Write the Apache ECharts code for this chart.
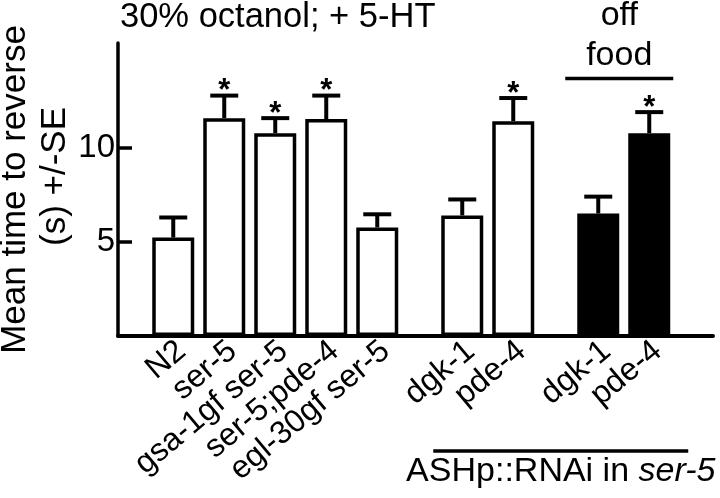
<!DOCTYPE html>
<html><head><meta charset="utf-8">
<script src="https://cdn.jsdelivr.net/npm/echarts@6/dist/echarts.min.js"></script>
<style>html,body{margin:0;padding:0;background:#fff}#c{width:720px;height:498px}</style>
</head><body><div id="c"></div>
<script>
// ---- data ----
const stimLabels = ['N2', 'ser-5', 'gsa-1gf ser-5', 'ser-5;pde-4', 'egl-30gf ser-5'];
const stimMeans  = [5.24, 11.6, 10.8, 11.55, 5.78];
const stimSE     = [1.07, 1.2, 0.8, 1.25, 0.7];
const stimSig    = [false, true, true, true, false];

const rnaiLabels = ['dgk-1', 'pde-4'];
const rnaiMeans  = [6.42, 11.44];
const rnaiSE     = [0.85, 1.23];
const rnaiSig    = [false, true];

const offFoodLabels = ['dgk-1', 'pde-4'];
const offFoodMeans  = [6.52, 10.8];
const offFoodSE     = [0.9, 1.12];
const offFoodSig    = [false, true];

const yTicks = [5, 10];
const titleText = '30% octanol; + 5-HT';
const yNameLines = ['Mean time to reverse', '(s) +/-SE'];
const rnaiCaption = 'ASHp::RNAi in ';
const rnaiCaptionItalic = 'ser-5';
const offFoodCaption = ['off', 'food'];

// ---- layout ----
const FONT = 'Liberation Sans, Arial, Helvetica, sans-serif';
const SLOTS = 70, FIRST = 6, STEP = 6, GROUP_GAP = 10, LABEL_SHIFT = 1;
const groups = [
  {labels: stimLabels, means: stimMeans, se: stimSE, sig: stimSig, fill: '#ffffff'},
  {labels: rnaiLabels, means: rnaiMeans, se: rnaiSE, sig: rnaiSig, fill: '#ffffff'},
  {labels: offFoodLabels, means: offFoodMeans, se: offFoodSE, sig: offFoodSig, fill: '#000000'}
];
const cats = new Array(SLOTS).fill('');
const labelCats = new Array(SLOTS).fill('');
const barData = new Array(SLOTS).fill('-');
const errData = [];
let pos = FIRST - STEP;
groups.forEach((g, gi) => {
  pos += (gi === 0 ? STEP : GROUP_GAP);
  g.slots = [];
  g.labels.forEach((lab, i) => {
    if (i > 0) pos += STEP;
    cats[pos] = lab;
    labelCats[pos + LABEL_SHIFT] = lab;
    barData[pos] = {value: g.means[i], itemStyle: {color: g.fill}};
    errData.push([pos, g.means[i], g.means[i] + g.se[i], g.sig[i] ? 1 : 0]);
    g.slots.push(pos);
  });
});

const chart = echarts.init(document.getElementById('c'), null, {renderer: 'canvas'});
const CAP_W = 28;

chart.setOption({
  animation: false,
  backgroundColor: '#fff',
  title: {
    text: titleText, left: 120, top: 0, padding: 0,
    textStyle: {fontSize: 34.5, fontWeight: 'normal', color: '#000', fontFamily: FONT}
  },
  grid: {left: 118, right: 7, top: 43, bottom: 162, outerBoundsMode: 'none', containLabel: false},
  xAxis: [{
    type: 'category', data: cats, boundaryGap: true,
    axisLine: {show: true, lineStyle: {color: '#000', width: 4}},
    axisTick: {show: false},
    axisLabel: {show: false}
  }, {
    type: 'category', data: labelCats, boundaryGap: true, position: 'bottom',
    axisLine: {show: false}, axisTick: {show: false},
    axisLabel: {interval: 0, rotate: 40, fontSize: 32, margin: 11, color: '#000', fontFamily: FONT}
  }],
  yAxis: {
    type: 'value', min: 0, max: 15.6, interval: 5,
    splitLine: {show: false},
    axisLine: {show: true, lineStyle: {color: '#000', width: 3.5}},
    axisTick: {show: true, inside: true, length: 14, customValues: yTicks, lineStyle: {color: '#000', width: 3.5}},
    axisLabel: {customValues: yTicks, fontSize: 33, margin: 3, color: '#000', fontFamily: FONT},
    name: '{a|' + yNameLines[0] + '}\n{b|' + yNameLines[1] + '}',
    nameLocation: 'middle', nameRotate: 90, nameGap: 43, nameMoveOverlap: false,
    nameTextStyle: {fontSize: 35, lineHeight: 40, color: '#000', fontFamily: FONT,
      rich: {a: {fontSize: 35, lineHeight: 40, fontFamily: FONT, color: '#000'},
             b: {fontSize: 35, lineHeight: 40, fontFamily: FONT, color: '#000', padding: [0, 0, 0, 26]}}}
  },
  series: [
    {
      type: 'bar', data: barData, barWidth: 42, xAxisIndex: 0,
      itemStyle: {borderColor: '#000', borderWidth: 3.5}
    },
    {
      type: 'custom', data: errData, z: 3, clip: false, xAxisIndex: 0,
      encode: {x: 0, y: [1, 2]},
      renderItem(params, api) {
        const x = api.value(0);
        const p0 = api.coord([x, api.value(1)]);
        const p1 = api.coord([x, api.value(2)]);
        const h = CAP_W / 2;
        const ch = [
          {type: 'line', shape: {x1: p0[0], y1: p0[1], x2: p0[0], y2: p1[1]}, style: {stroke: '#000', lineWidth: 4}},
          {type: 'line', shape: {x1: p0[0] - h, y1: p1[1], x2: p0[0] + h, y2: p1[1]}, style: {stroke: '#000', lineWidth: 4}}
        ];
        if (api.value(3)) {
          ch.push({type: 'text', style: {text: '*', x: p0[0], y: p1[1] - 4, align: 'center', verticalAlign: 'middle',
            font: 'bold 31px ' + FONT, fill: '#000'}});
        }
        return {type: 'group', children: ch};
      }
    },
    {
      type: 'custom', data: [[0, 0]], z: 4, clip: false, silent: true, xAxisIndex: 0,
      renderItem(params, api) {
        const g1 = groups[1], g2 = groups[2];
        const base = api.coord([0, 0])[1];
        const r0 = api.coord([g1.slots[0], 0])[0] - 29;
        const r1 = api.coord([g2.slots[g2.slots.length - 1], 0])[0] + 39;
        const ry = base + 115;
        const o0 = api.coord([g2.slots[0], 0])[0] - 33;
        const o1 = api.coord([g2.slots[g2.slots.length - 1], 0])[0] + 24;
        const oy = 78.5;
        const oc = (o0 + o1) / 2;
        return {type: 'group', children: [
          {type: 'line', shape: {x1: r0, y1: ry, x2: r1, y2: ry}, style: {stroke: '#000', lineWidth: 3.5}},
          {type: 'text', style: {
            text: '{a|' + rnaiCaption + '}{b|' + rnaiCaptionItalic + '}',
            x: (r0 + r1) / 2, y: ry + 21, align: 'center', verticalAlign: 'middle',
            rich: {a: {fontSize: 34, fontFamily: FONT, fill: '#000'}, b: {fontSize: 34, fontFamily: FONT, fontStyle: 'italic', fill: '#000'}}
          }},
          {type: 'line', shape: {x1: o0, y1: oy, x2: o1, y2: oy}, style: {stroke: '#000', lineWidth: 3.5}},
          {type: 'text', style: {text: offFoodCaption[0], x: oc, y: 16, align: 'center', verticalAlign: 'middle',
            font: '34px ' + FONT, fill: '#000'}},
          {type: 'text', style: {text: offFoodCaption[1], x: oc, y: 56, align: 'center', verticalAlign: 'middle',
            font: '34px ' + FONT, fill: '#000'}}
        ]};
      }
    }
  ]
});
</script>
</body></html>
